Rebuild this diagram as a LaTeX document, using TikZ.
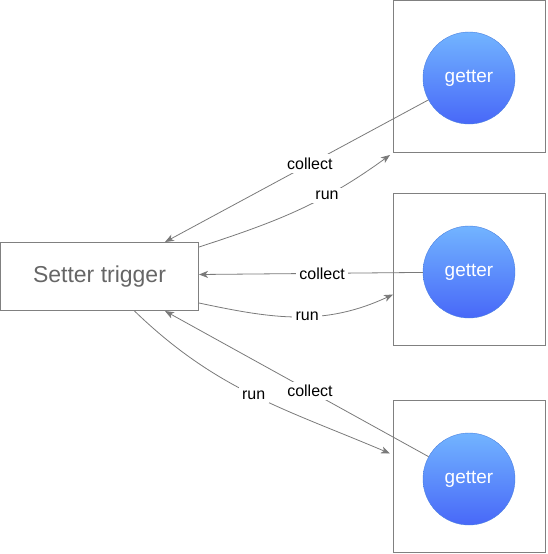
\documentclass[tikz,border=0pt]{standalone}
\usepackage{fontspec}
\setmainfont{Liberation Sans}
\usetikzlibrary{arrows.meta}

\definecolor{linegray}{HTML}{7A7A7A}
\definecolor{boxgray}{HTML}{808080}
\definecolor{textgray}{HTML}{666666}
\definecolor{gettertop}{HTML}{72B4FF}
\definecolor{getterbottom}{HTML}{4868F8}
\definecolor{getterline}{HTML}{4A80E0}

\begin{document}
\begin{tikzpicture}[x=1pt,y=-1pt,
    box/.style={draw=boxgray, line width=1pt, minimum size=152pt, inner sep=0pt},
    getter/.style={circle, minimum size=92pt, inner sep=0pt, top color=gettertop, bottom color=getterbottom, draw=getterline, text=white, font=\fontsize{19}{19}\selectfont},
    flow/.style={draw=linegray, line width=0.8pt, -{Stealth[length=9pt,width=7pt,inset=2.5pt]}},
    lbl/.style={fill=white, inner sep=3.5pt, font=\fontsize{16}{16}\selectfont}]
  \useasboundingbox (0,0) rectangle (547,554);

  % the trigger on the left
  \node[draw=boxgray, line width=1pt, minimum width=198pt, minimum height=68pt, text=textgray, font=\fontsize{23}{23}\selectfont] (setter) at (99.5,276.5) {Setter trigger};

  % three boxes, each with a getter
  \node[box] (b1) at (469.5,76.5) {};
  \node[box] (b2) at (469.5,269.5) {};
  \node[box] (b3) at (469.5,476.5) {};
  \node[getter] (g1) at (469,78) {getter};
  \node[getter] (g2) at (469,272) {getter};
  \node[getter] (g3) at (469,479) {getter};

  % collect: from each getter back to the trigger
  \draw[flow] (g1) -- node[lbl,pos=0.45] {collect} ([xshift=-34pt]setter.north east);
  \draw[flow] (g2) -- node[lbl,pos=0.45] {collect} ([yshift=2pt]setter.east);
  \draw[flow] (g3) -- node[lbl,pos=0.45] {collect} ([xshift=-34pt]setter.south east);

  % run: from the trigger out to each box
  \draw[flow] ([yshift=-5pt]setter.north east) to[out=18,in=216] node[lbl,pos=0.66] {run} ([shift={(-3pt,-2pt)}]b1.south west);
  \draw[flow] ([yshift=8pt]setter.south east) to[out=-12,in=205] node[lbl,pos=0.55] {run} ([yshift=-25pt]b2.west);
  \draw[flow] ([xshift=35pt]setter.south) to[out=-44,in=157] node[lbl,pos=0.5] {run} ([shift={(-3pt,23pt)}]b3.west);
\end{tikzpicture}
\end{document}
